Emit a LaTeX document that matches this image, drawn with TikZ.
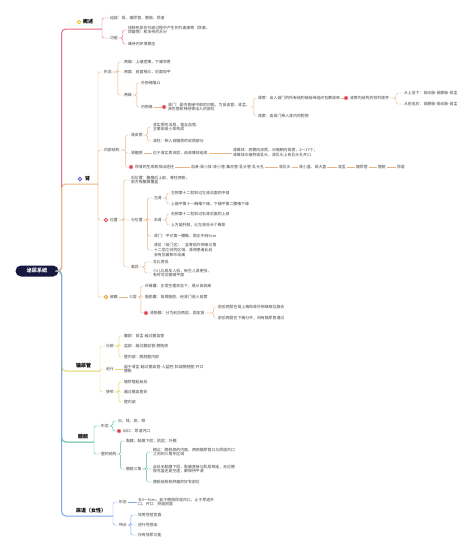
\documentclass[tikz,border=0pt]{standalone}
\usepackage{fontspec}
\setmainfont{Noto Sans CJK SC}
\XeTeXlinebreaklocale "zh"
\definecolor{cR}{HTML}{E56F82}
\definecolor{cO}{HTML}{E8B584}
\definecolor{cY}{HTML}{E3D365}
\definecolor{cG}{HTML}{52BE8C}
\definecolor{cB}{HTML}{7FA8E6}
\definecolor{txt}{HTML}{444444}
\definecolor{navy}{HTML}{17183F}
\definecolor{mk}{HTML}{E03A4C}
\definecolor{iY}{HTML}{F2BE2C}
\definecolor{iP}{HTML}{5A5CC8}
\definecolor{iR}{HTML}{E0505A}
\definecolor{iO}{HTML}{E8A040}
\tikzset{
 t/.style={anchor=west, inner sep=0.8pt, text=txt, font=\fontsize{3.9pt}{4.9pt}\selectfont},
 topic/.style={anchor=west, inner sep=0.8pt, text=black, font=\fontsize{5pt}{6pt}\selectfont\bfseries},
 lk/.style={line width=0.45pt, rounded corners=1.5pt},
 mainl/.style={line width=1pt, rounded corners=4pt},
 ring/.style={circle, draw=#1, line width=0.9pt, fill=white, minimum size=3.4pt, inner sep=0pt},
 redmk/.style={circle, fill=mk, draw=mk!40, line width=0.5pt, minimum size=4pt, inner sep=0pt},
 rootbox/.style={fill=navy, text=white, rounded corners=5.5pt, minimum width=43pt, minimum height=11pt, inner sep=1pt, font=\fontsize{5.2pt}{6pt}\selectfont\bfseries},
}
\begin{document}
\begin{tikzpicture}[x=1pt,y=-1pt]
\useasboundingbox[fill=white] (0,0) rectangle (474,554);
\node[rootbox] (root) at (37,271) {泌尿系统};

% ---------- 概述 ----------
\node[ring=iY] (gs-i) at (79,22) {};
\node[topic] (gs) at (82,22) {概述};
\coordinate (gs-u) at (102,29);
\draw[mainl,cR] (root.east) -- ++(3,0) |- (gs-u);
\node[t] (gs1) at (109,18) {组成：肾、输尿管、膀胱、尿道};
\node[t] (gs2) at (109,38) {功能};
\node[t,align=left] (gs21) at (127,30) {排除机体在代谢过程中产生的代谢废物（尿素、\\尿酸等）和多余的水分};
\node[t] (gs22) at (127,44) {维持内环境稳态};
\foreach \c in {gs1,gs2} \draw[lk,cR] (gs-u) |- (\c.west);
\foreach \c in {gs21,gs22} \draw[lk,cR] (gs2.east) -- ++(4,0) |- (\c.west);

% ---------- 肾 ----------
\node[ring=iP] (s-i) at (80,179) {};
\node[topic] (s) at (84,179) {肾};
\coordinate (s-u) at (98,184);
\draw[mainl,cO] (root.east) -- ++(3,0) |- (s-u);
\node[t] (xt) at (103,72) {形态};
\node[t] (nb) at (103,150) {内部结构};
\node[ring=iR] (wz-i) at (106,220) {};
\node[t] (wz) at (109,220) {位置};
\node[ring=iO] (bm-i) at (106,297) {};
\node[t] (bm) at (109,297) {被膜};
\foreach \c in {xt,nb,wz-i,bm-i} \draw[lk,cO] (s-u) |- (\c.west);

% 形态
\node[t] (xt1) at (123,62) {两端：上端宽薄，下端窄厚};
\node[t] (xt2) at (123,72) {两面：前面稍凸，后面较平};
\node[t] (xt3) at (123,95) {两缘};
\foreach \c in {xt1,xt2,xt3} \draw[lk,cO] (xt.east) -- ++(5,0) |- (\c.west);
\node[t] (xt31) at (140,83) {外侧缘隆凸};
\node[t] (xt32) at (140,107) {内侧缘};
\foreach \c in {xt31,xt32} \draw[lk,cO] (xt3.east) -- ++(4,0) |- (\c.west);
\node[redmk] (sm-i) at (164,107) {};
\node[t,align=left] (sm) at (167,107) {肾门：是内侧缘中部的凹陷，为肾血管、肾盂、\\淋巴管和神经等出入的部位};
\draw[lk,cO] (xt32.east) -- (sm-i.west);
\node[t] (sd) at (257,98) {肾蒂：出入肾门的所有结构被结缔组织包裹成束};
\node[t] (ss) at (257,116) {肾窦：由肾门伸入肾内的腔隙};
\foreach \c in {sd,ss} \draw[lk,cO] (sm.east) -- ++(3,0) |- (\c.west);
\node[redmk] (sdp-i) at (346,98) {};
\node[t] (sdp) at (349,98) {肾蒂内结构的排列顺序};
\draw[lk,cO] (sd.east) -- (sdp-i.west);
\node[t] (sdp1) at (403,93) {从上至下：肾动脉-肾静脉-肾盂};
\node[t] (sdp2) at (403,104) {从前至后：肾静脉-肾动脉-肾盂};
\foreach \c in {sdp1,sdp2} \draw[lk,cO] (sdp.east) -- ++(6,0) |- (\c.west);

% 内部结构
\node[t] (pz) at (130,135) {肾皮质};
\node[t] (sz) at (130,153) {肾髓质};
\node[redmk] (ny-i) at (131,167) {};
\node[t] (ny) at (134,167) {尿液的生成和排出途径};
\foreach \c in {pz,sz,ny-i} \draw[lk,cO] (nb.east) -- ++(5,0) |- (\c.west);
\node[t,align=left] (pz1) at (152,127) {肾实质的浅层，富含血管，\\主要由肾小体构成};
\node[t] (pz2) at (152,141) {肾柱：伸入肾髓质的皮质部分};
\foreach \c in {pz1,pz2} \draw[lk,cO] (pz.east) -- ++(4,0) |- (\c.west);
\node[t] (sz1) at (152,153) {位于肾实质深层，由肾锥体组成};
\draw[lk,cO] (sz.east) -- (sz1.west);
\node[t,align=left] (sz2) at (232,153) {肾锥体：底朝向皮质，尖端朝向肾窦，2～17个；\\肾锥体尖端称肾乳头，肾乳头上有乳头孔开口};
\draw[lk,cO] (sz1.east) -- (sz2.west);
\node[t] (ny1) at (190,167) {血液-肾小体-肾小管-集合管-乳头管-乳头孔};
\node[t] (ny2) at (278,167) {肾乳头};
\node[t] (ny3) at (298,167) {肾小盏、肾大盏};
\node[t] (ny4) at (337,167) {肾盂};
\node[t] (ny5) at (355,167) {输尿管};
\node[t] (ny6) at (377,167) {膀胱};
\node[t] (ny7) at (396,167) {尿道};
\draw[lk,cO] (ny.east) -- (ny1.west);
\foreach \a/\b in {ny1/ny2,ny2/ny3,ny3/ny4,ny4/ny5,ny5/ny6,ny6/ny7} \draw[lk,cO] (\a.east) -- (\b.west);

% 位置
\node[t,align=left] (wz1) at (130,180) {后位置：腹膜后上部，脊柱两侧，\\前方有腹膜覆盖};
\node[t] (wz2) at (130,220) {分位置};
\node[t] (wz3) at (130,267) {差异};
\foreach \c in {wz1,wz2,wz3} \draw[lk,cO] (wz.east) -- ++(5,0) |- (\c.west);
\node[t] (zs) at (153,198) {左肾};
\node[t] (ys) at (153,220) {右肾};
\node[t] (smm) at (153,236) {肾门：平对第一腰椎，距正中线5cm};
\node[t,align=left] (sq) at (153,250) {肾区（肾门区）：竖脊肌外侧缘与第\\十二肋之间的区域，肾病患者此处\\会有压痛和叩击痛};
\foreach \c in {zs,ys,smm,sq} \draw[lk,cO] (wz2.east) -- ++(4,0) |- (\c.west);
\node[t] (zs1) at (170,193) {左侧第十二肋斜过左肾后面的中部};
\node[t] (zs2) at (170,204) {上端平第十一胸椎下缘，下端平第二腰椎下缘};
\foreach \c in {zs1,zs2} \draw[lk,cO] (zs.east) -- ++(4,0) |- (\c.west);
\node[t] (ys1) at (170,214) {右侧第十二肋斜过右肾后面的上部};
\node[t] (ys2) at (170,225) {上方是肝脏，比左肾低半个椎体};
\foreach \c in {ys1,ys2} \draw[lk,cO] (ys.east) -- ++(4,0) |- (\c.west);
\node[t] (cy1) at (152,262) {女比男低};
\node[t,align=left] (cy2) at (152,273) {小儿比成年人低，新生儿肾更低，\\有时可达髂嵴平面};
\foreach \c in {cy1,cy2} \draw[lk,cO] (wz3.east) -- ++(5,0) |- (\c.west);

% 被膜
\node[t] (bm0) at (128,297) {三层};
\draw[lk,cO] (bm.east) -- (bm0.west);
\node[t] (bm1) at (144,286) {纤维囊：正常生理状态下，易从肾剥离};
\node[t] (bm2) at (144,297) {脂肪囊：肾周脂肪，经肾门进入肾窦};
\node[redmk] (bm3-i) at (146,313) {};
\node[t] (bm3) at (149,313) {肾筋膜：分为前后两层，固定肾};
\foreach \c in {bm1,bm2,bm3-i} \draw[lk,cO] (bm0.east) -- ++(3,0) |- (\c.west);
\node[t] (bm31) at (217,307) {前后两层在肾上端和肾外侧缘相互融合};
\node[t] (bm32) at (217,318) {前后两层在下端分开，间有输尿管通过};
\foreach \c in {bm31,bm32} \draw[lk,cO] (bm3.east) -- ++(8,0) |- (\c.west);

% ---------- 输尿管 ----------
\node[topic] (sng) at (75,366) {输尿管};
\coordinate (sng-u) at (100,371);
\draw[mainl,cY] (root.east) -- ++(3,0) |- (sng-u);
\node[t] (fb) at (105,346) {分部};
\node[t] (zx) at (105,369) {走行};
\node[t] (xz) at (105,392) {狭窄};
\foreach \c in {fb,zx,xz} \draw[lk,cY] (sng-u) |- (\c.west);
\node[t] (fb1) at (123,336) {腹部：肾盂-越过髂血管};
\node[t] (fb2) at (123,346) {盆部：越过髂血管-膀胱底};
\node[t] (fb3) at (123,357) {壁内部：膀胱壁内部};
\foreach \c in {fb1,fb2,fb3} \draw[lk,cY] (fb.east) -- ++(4,0) |- (\c.west);
\node[t,align=left] (zx1) at (123,369) {起于肾盂-越过髂血管-入盆腔-斜穿膀胱壁-开口\\膀胱};
\draw[lk,cY] (zx.east) -- (zx1.west);
\node[t] (xz1) at (123,382) {输尿管起始处};
\node[t] (xz2) at (123,392) {越过髂血管处};
\node[t] (xz3) at (123,402) {壁内部};
\foreach \c in {xz1,xz2,xz3} \draw[lk,cY] (xz.east) -- ++(4,0) |- (\c.west);

% ---------- 膀胱 ----------
\node[topic] (pg) at (77,437) {膀胱};
\coordinate (pg-u) at (94,442);
\draw[mainl,cG] (root.east) -- ++(3,0) |- (pg-u);
\node[t] (pgx) at (100,426) {形态};
\node[t] (bj) at (100,454) {壁的结构};
\foreach \c in {pgx,bj} \draw[lk,cG] (pg-u) |- (\c.west);
\node[t] (pgx1) at (117,421) {尖、体、底、颈};
\node[redmk] (ck-i) at (119,431) {};
\node[t] (ck) at (122,431) {出口：尿道内口};
\foreach \c in {pgx1,ck-i} \draw[lk,cG] (pgx.east) -- ++(3,0) |- (\c.west);
\node[t] (bj1) at (125,441) {黏膜；黏膜下层；肌层；外膜};
\node[t] (bj2) at (125,469) {膀胱三角};
\foreach \c in {bj1,bj2} \draw[lk,cG] (bj.east) -- ++(3,0) |- (\c.west);
\node[t,align=left] (sj1) at (152,452) {概念：膀胱底的内面，两侧输尿管口与尿道内口\\之间的三角形区域};
\node[t,align=left] (sj2) at (152,469) {此处无黏膜下层，黏膜直接与肌层相连，无论膀\\胱充盈还是空虚，都保持平滑};
\node[t] (sj3) at (152,482) {膀胱结核和肿瘤的好发部位};
\foreach \c in {sj1,sj2,sj3} \draw[lk,cG] (bj2.east) -- ++(4,0) |- (\c.west);

% ---------- 尿道 ----------
\node[topic] (nd) at (75,511) {尿道（女性）};
\coordinate (nd-u) at (113,516);
\draw[mainl,cB] (root.east) -- ++(3,0) |- (nd-u);
\node[t] (ndx) at (118,502) {形态};
\node[t] (tt) at (118,525) {特点};
\foreach \c in {ndx,tt} \draw[lk,cB] (nd-u) |- (\c.west);
\node[t,align=left] (ndx1) at (137,502) {长3～5cm，起于膀胱尿道内口，止于尿道外\\口，开口：阴道前庭};
\draw[lk,cB] (ndx.east) -- (ndx1.west);
\node[t] (tt1) at (137,515) {较男性短宽直};
\node[t] (tt2) at (137,525) {逆行性感染};
\node[t] (tt3) at (137,535) {仅有排尿功能};
\foreach \c in {tt1,tt2,tt3} \draw[lk,cB] (tt.east) -- ++(3,0) |- (\c.west);
\end{tikzpicture}
\end{document}
